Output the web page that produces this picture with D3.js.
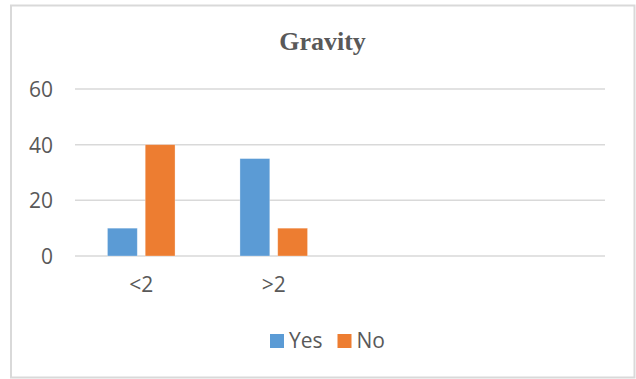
<!DOCTYPE html>
<html>
<head>
<meta charset="utf-8">
<script src="https://cdn.jsdelivr.net/npm/d3@7"></script>
<style>
  html, body { margin: 0; padding: 0; background: #fff; }
  svg { display: block; }
  .axis text { font-family: "Open Sans", Lato, sans-serif; fill: #595959; }
</style>
</head>
<body>
<svg id="chart" width="636" height="379"></svg>
<script>
// Category axis: two labelled groups followed by two empty slots
const categories = ["<2", ">2", "", ""];
const seriesNames = ["Yes", "No"];
const yesValues = [10, 35, null, null];
const noValues = [40, 10, null, null];
const yTicks = [0, 20, 40, 60];
const colors = ["#5B9BD5", "#ED7D31"];

const svg = d3.select("#chart");

// Chart area frame
svg.append("rect")
  .attr("x", 11).attr("y", 5.5)
  .attr("width", 623.5).attr("height", 372)
  .attr("fill", "#fff")
  .attr("stroke", "#d9d9d9")
  .attr("stroke-width", 2);

const plot = { left: 75, right: 605, top: 89, bottom: 256 };

const x = d3.scaleBand()
  .domain(d3.range(categories.length))
  .range([plot.left, plot.right])
  .padding(0);

const xSeries = d3.scaleBand()
  .domain(seriesNames)
  .range([x.bandwidth() * 0.245, x.bandwidth() * 0.755])
  .paddingInner(0.21)
  .paddingOuter(0);

const y = d3.scaleLinear()
  .domain([0, 60])
  .range([plot.bottom, plot.top]);

// Horizontal gridlines
svg.append("g")
  .selectAll("line")
  .data(yTicks)
  .join("line")
  .attr("x1", plot.left).attr("x2", plot.right)
  .attr("y1", d => y(d)).attr("y2", d => y(d))
  .attr("stroke", "#d9d9d9")
  .attr("stroke-width", 1.5);

// Value axis labels
const yAxis = d3.axisLeft(y).tickValues(yTicks).tickSize(0).tickPadding(0);
svg.append("g")
  .attr("class", "axis")
  .attr("transform", `translate(${plot.left - 22},0)`)
  .call(yAxis)
  .call(g => g.select(".domain").remove())
  .call(g => g.selectAll("text").attr("font-size", 21).attr("dy", "0.35em"));

// Bars
const rows = categories.map((c, i) => ({ i, values: [yesValues[i], noValues[i]] }));
const groups = svg.append("g")
  .selectAll("g")
  .data(rows)
  .join("g")
  .attr("transform", d => `translate(${x(d.i)},0)`);

groups.selectAll("rect")
  .data(d => d.values.map((v, k) => ({ name: seriesNames[k], v, k })).filter(d => d.v != null))
  .join("rect")
  .attr("x", d => xSeries(d.name))
  .attr("width", xSeries.bandwidth())
  .attr("y", d => y(d.v))
  .attr("height", d => y(0) - y(d.v))
  .attr("fill", d => colors[d.k])
  .attr("stroke", "#fff")
  .attr("stroke-opacity", 0.4)
  .attr("stroke-width", 0.75);

// Category axis labels
const xAxis = d3.axisBottom(x).tickFormat(i => categories[i]).tickSize(0).tickPadding(0);
svg.append("g")
  .attr("class", "axis")
  .attr("transform", `translate(0,${plot.bottom + 21})`)
  .call(xAxis)
  .call(g => g.select(".domain").remove())
  .call(g => g.selectAll("text").attr("font-size", 21));

// Title
svg.append("text")
  .attr("x", 322.5).attr("y", 49.5)
  .attr("text-anchor", "middle")
  .attr("font-family", "'Liberation Serif', 'Times New Roman', serif")
  .attr("font-weight", "bold")
  .attr("font-size", 26)
  .attr("fill", "#595959")
  .text("Gravity");

// Legend
const legendItems = [
  { name: seriesNames[0], color: colors[0], x: 270 },
  { name: seriesNames[1], color: colors[1], x: 337.5 }
];
const legend = svg.append("g")
  .selectAll("g")
  .data(legendItems)
  .join("g")
  .attr("transform", d => `translate(${d.x},334)`);
legend.append("rect")
  .attr("width", 14).attr("height", 14)
  .attr("fill", d => d.color);
legend.append("text")
  .attr("x", 19).attr("y", 14)
  .attr("font-family", "'Open Sans', Lato, sans-serif")
  .attr("font-size", 21)
  .attr("fill", "#595959")
  .text(d => d.name);
</script>
</body>
</html>
